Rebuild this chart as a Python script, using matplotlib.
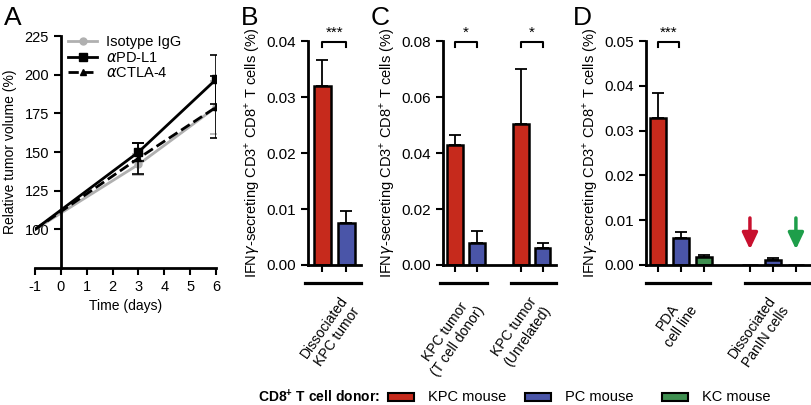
import matplotlib.pyplot as plt
import matplotlib.transforms as mtransforms
from matplotlib.patches import Rectangle

plt.rcParams['font.family'] = ['Liberation Sans', 'DejaVu Sans']
plt.rcParams['mathtext.fontset'] = 'custom'
plt.rcParams['mathtext.rm'] = 'Liberation Sans'
plt.rcParams['mathtext.bf'] = 'Liberation Sans:bold'
plt.rcParams['axes.linewidth'] = 2
plt.rcParams['axes.unicode_minus'] = False

# Panel A - tumor growth
days = [-1, 3, 6]
igg = [100, 142, 179]
igg_err = [0, 7, 17]
pdl1 = [100, 150, 197]
pdl1_err = [0, 6, 16]
ctla4 = [100, 146, 179]
ctla4_err = [0, 10, 20]

# Panels B-D - IFNg secreting T cells
b_vals = [0.032, 0.0075]
b_err = [0.0047, 0.0022]
c_vals = [0.0428, 0.008, 0.0502, 0.006]
c_err = [0.0037, 0.0041, 0.0198, 0.0017]
d_vals = [0.0329, 0.006, 0.0018, 0.0001, 0.0012, 0.0]
d_err = [0.0054, 0.0013, 0.0004, 0.0, 0.0004, 0.0]

RED = '#c62a1c'
BLUE = '#4a55a8'
GREEN = '#3f8f50'
ylab = r'IFN$\gamma$-secreting CD3$^{+}$ CD8$^{+}$ T cells (%)'

fig = plt.figure(figsize=(8.12, 4.05), dpi=100)

# ---------------- A
axA = fig.add_axes([0.0431, 0.338, 0.223, 0.573])
for ys, es, col, ls, mk, ms, lab in [(igg, igg_err, '#b0b0b0', '-', 'o', 5, 'Isotype IgG'),
                                     (pdl1, pdl1_err, 'black', '-', 's', 6, r'$\alpha$PD-L1'),
                                     (ctla4, ctla4_err, 'black', '--', '^', 5, r'$\alpha$CTLA-4')]:
    axA.errorbar(days[1:], ys[1:], yerr=es[1:], fmt='none', ecolor=col, capsize=4,
                 elinewidth=1.2, capthick=1.2)
    axA.plot(days, ys, color=col, lw=2, ls=ls, marker=mk, ms=ms, markevery=[1, 2], label=lab)
axA.set_xlim(-1, 6)
axA.set_ylim(75, 225)
axA.set_xticks(range(-1, 7))
axA.set_yticks([100, 125, 150, 175, 200, 225])
axA.spines['left'].set_position(('data', 0))
axA.spines['right'].set_visible(False)
axA.spines['top'].set_visible(False)
axA.tick_params(width=1.5, length=5, labelsize=10.5)
axA.set_xlabel('Time (days)', fontsize=10)
axA.set_ylabel('Relative tumor volume (%)', fontsize=10)
axA.yaxis.set_label_coords(-0.10, 0.5)
axA.legend(loc='upper left', bbox_to_anchor=(0.11, 1.06), frameon=False, fontsize=10.5,
           handlelength=2.0, handletextpad=0.6, labelspacing=0.1)


def bar_panel(rect, xs, vals, errs, colors, xlim, ymax, yticks):
    ax = fig.add_axes(rect)
    ax.bar(xs, vals, width=0.7, color=colors, edgecolor='black', linewidth=1.8, zorder=2)
    for x, v, e in zip(xs, vals, errs):
        if e > 0:
            ax.errorbar([x], [v], yerr=[[0], [e]], color='black', lw=1.3, capsize=4,
                        capthick=1.3, zorder=1)
    ax.set_xlim(*xlim)
    ax.set_ylim(0, ymax)
    ax.set_yticks(yticks)
    ax.set_yticklabels(['%.2f' % t for t in yticks])
    ax.set_xticks(xs)
    ax.set_xticklabels([])
    ax.spines['right'].set_visible(False)
    ax.spines['top'].set_visible(False)
    ax.tick_params(width=1.5, length=5, labelsize=11)
    ax.set_ylabel(ylab, fontsize=10.5, labelpad=3)
    return ax


def bracket(ax, x0, x1, y, stars, h):
    ax.plot([x0, x0, x1, x1], [y - h, y, y, y - h], color='black', lw=1.5, clip_on=False)
    ax.text((x0 + x1) / 2, y + h * 0.5, stars, ha='center', va='bottom', fontsize=11)


def group(ax, x0, x1, xlab, label):
    tr = mtransforms.blended_transform_factory(ax.transData, ax.transAxes)
    ax.plot([x0, x1], [-0.08, -0.08], color='black', lw=2.3, transform=tr, clip_on=False)
    ax.text(xlab, -0.13, label, transform=tr, ha='right', va='top', rotation=55,
            rotation_mode='anchor', multialignment='center', fontsize=10)


# ---------------- B
axB = bar_panel([0.379, 0.3457, 0.0653, 0.553], [0, 1], b_vals, b_err, [RED, BLUE],
                (-0.6, 1.6), 0.04, [0, 0.01, 0.02, 0.03, 0.04])
bracket(axB, 0, 1, 0.0398, '***', 0.0008)
group(axB, -0.7, 1.6, 0.7, 'Dissociated\nKPC tumor')

# ---------------- C
axC = bar_panel([0.5456, 0.3457, 0.139, 0.553], [0, 1, 3, 4], c_vals, c_err,
                [RED, BLUE, RED, BLUE], (-0.55, 4.6), 0.08, [0, 0.02, 0.04, 0.06, 0.08])
bracket(axC, 0, 1, 0.0796, '*', 0.0016)
bracket(axC, 3, 4, 0.0796, '*', 0.0016)
group(axC, -0.7, 1.45, 0.35, 'KPC tumor\n(T cell donor)')
group(axC, 2.55, 4.6, 3.35, 'KPC tumor\n(Unrelated)')

# ---------------- D
axD = bar_panel([0.7956, 0.3457, 0.2044, 0.553], [0, 1, 2, 4, 5, 6], d_vals, d_err,
                [RED, BLUE, GREEN, RED, BLUE, GREEN], (-0.52, 6.7), 0.05,
                [0, 0.01, 0.02, 0.03, 0.04, 0.05])
bracket(axD, 0, 0.9, 0.0497, '***', 0.001)
group(axD, -0.52, 2.26, 0.75, 'PDA\ncell line')
group(axD, 3.78, 6.7, 4.75, 'Dissociated\nPanIN cells')
arrow_style = '-|>,head_length=0.55,head_width=0.26'
for ax_x, acol in [(4.0, '#c8102e'), (6.0, '#1e9e4a')]:
    axD.annotate('', xy=(ax_x, 0.0035), xytext=(ax_x, 0.0105),
                 arrowprops=dict(arrowstyle=arrow_style, color=acol, lw=2.5,
                                 mutation_scale=18, shrinkA=0, shrinkB=0))

# panel letters
for x, s in [(0.005, 'A'), (0.297, 'B'), (0.456, 'C'), (0.706, 'D')]:
    fig.text(x, 0.955, s, fontsize=19, va='center')

# bottom legend
ly = 1 - 397 / 405
fig.text(258 / 812, ly, r'CD8$^{\mathbf{+}}$ T cell donor:', fontsize=10, fontweight='bold',
         va='center')
for x0, col, txt in [(388, RED, 'KPC mouse'), (525, BLUE, 'PC mouse'), (662, GREEN, 'KC mouse')]:
    fig.patches.append(Rectangle((x0 / 812, ly - 0.010), 26 / 812, 0.020, facecolor=col,
                                 edgecolor='black', lw=1.5, transform=fig.transFigure))
    fig.text((x0 + 40) / 812, ly, txt, fontsize=10.5, va='center')

plt.savefig('out.png', dpi=100)
